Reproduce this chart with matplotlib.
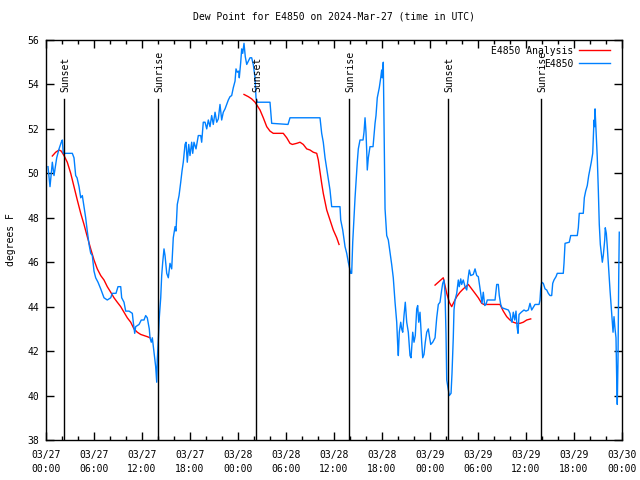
import numpy as np
import matplotlib
matplotlib.use('Agg')
import matplotlib.pyplot as plt
import matplotlib.dates as mdates
import pandas as pd

#--------------------------------
#Configurations of the graph
#--------------------------------
plt.rcParams['font.family'] = 'DejaVu Sans Mono'
plt.rcParams['font.size'] = 7

start = pd.Timestamp('2024-03-27 00:00')

#--------------------------------
#Data (hours after start, dew point in F)
#--------------------------------
obs_hours = [0.25, 0.5, 0.79, 1.0, 1.34, 1.63, 1.91, 2.04, 2.16, 3.29, 3.5, 3.71, 3.88, 4.13,
             4.34, 4.54, 4.75, 4.96, 5.16, 5.38, 5.59, 5.79, 6.0, 6.21, 6.5, 6.84, 7.25, 7.66,
             8.09, 8.29, 8.75, 9.0, 9.34, 9.46, 9.75, 9.96, 10.38, 10.79, 10.91, 11.09, 11.21,
             11.63, 11.91, 12.25, 12.46, 12.66, 12.91, 13.0, 13.16, 13.29, 13.5, 13.71, 13.84,
             13.91, 14.04, 14.16, 14.34, 14.46, 14.59, 14.75, 14.88, 15.09, 15.29, 15.5, 15.71,
             15.91, 16.13, 16.25, 16.41, 16.63, 16.84, 17.0, 17.16, 17.38, 17.5, 17.66, 17.84,
             18.0, 18.21, 18.34, 18.5, 18.75, 19.04, 19.34, 19.46, 19.66, 19.88, 20.09, 20.29,
             20.5, 20.71, 20.91, 21.13, 21.34, 21.54, 21.75, 21.96, 22.16, 22.38, 22.59, 22.79,
             23.0, 23.21, 23.41, 23.63, 23.75, 23.91, 24.09, 24.16, 24.34, 24.46, 24.59, 24.75,
             24.91, 25.09, 25.29, 25.5, 25.71, 25.91, 26.13, 26.25, 26.41, 28.0, 28.21, 30.25,
             30.5, 34.25, 34.46, 34.66, 34.88, 35.09, 35.29, 35.5, 35.71, 36.75, 36.84, 37.09,
             37.38, 37.59, 37.79, 37.91, 38.09, 38.21, 38.34, 38.5, 38.63, 38.75, 38.91, 39.04,
             39.25, 39.63, 39.75, 39.88, 40.0, 40.09, 40.16, 40.29, 40.5, 40.88, 41.0, 41.13,
             41.25, 41.41, 41.66, 41.84, 41.96, 42.04, 42.16, 42.25, 42.38, 42.59, 42.79, 43.0,
             43.21, 43.41, 43.63, 43.84, 43.96, 44.04, 44.16, 44.34, 44.46, 44.59, 44.75, 44.91,
             45.09, 45.29, 45.5, 45.63, 45.84, 46.0, 46.16, 46.34, 46.46, 46.59, 46.75, 46.96,
             47.09, 47.25, 47.41, 47.59, 47.79, 47.91, 48.09, 48.34, 48.63, 48.84, 49.04, 49.25,
             49.46, 49.59, 49.75, 49.88, 50.0, 50.09, 50.29, 50.41, 50.63, 50.75, 50.91, 51.0,
             51.13, 51.34, 51.54, 51.66, 51.84, 51.96, 52.16, 52.38, 52.59, 52.79, 52.91, 53.09,
             53.41, 53.63, 53.84, 54.04, 54.16, 54.34, 54.5, 54.66, 54.84, 55.0, 55.16, 56.13,
             56.34, 56.54, 56.66, 56.84, 57.0, 57.38, 57.79, 58.0, 58.13, 58.25, 58.41, 58.59,
             58.75, 58.88, 59.0, 59.13, 59.41, 59.75, 60.0, 60.29, 60.5, 60.71, 61.13, 61.63,
             61.75, 61.84, 61.96, 62.16, 62.38, 62.59, 62.79, 63.0, 63.21, 63.34, 63.5, 63.75,
             63.91, 64.66, 64.75, 64.88, 65.41, 65.59, 66.41, 66.54, 66.66, 67.16, 67.29, 67.46,
             67.66, 67.84, 68.0, 68.16, 68.34, 68.41, 68.5, 68.59, 68.63, 68.75, 68.91, 69.04,
             69.16, 69.29, 69.41, 69.54, 69.66, 69.84, 69.91, 70.04, 70.16, 70.34, 70.5, 70.63,
             70.75, 70.88, 71.0, 71.13, 71.25, 71.34, 71.41, 71.5, 71.59, 71.66]
obs_dewpt = [50.3, 49.4, 50.5, 49.9, 50.7, 51.1, 51.4, 51.5, 50.9, 50.9, 50.7, 49.9, 49.8, 49.4,
             48.9, 49.0, 48.5, 48.0, 47.4, 46.8, 46.4, 46.3, 45.6, 45.3, 45.1, 44.8, 44.4, 44.3,
             44.4, 44.6, 44.6, 44.9, 44.9, 44.4, 44.2, 43.8, 43.8, 43.7, 43.3, 42.8, 43.1,
             43.2, 43.4, 43.4, 43.6, 43.5, 43.0, 42.6, 42.4, 42.6, 41.95, 41.3, 40.6,
             41.6, 42.5, 43.5, 44.4, 45.4, 46.0, 46.6, 46.3, 45.5, 45.3, 45.95, 45.7,
             47.1, 47.6, 47.4, 48.6, 49.0, 49.6, 50.1, 50.5, 51.3, 51.4, 50.5, 51.3,
             50.8, 51.4, 50.9, 51.4, 51.1, 51.7, 51.7, 51.4, 52.3, 52.3, 52.0, 52.4,
             52.1, 52.6, 52.2, 52.75, 52.3, 52.45, 53.1, 52.4, 52.75, 52.9, 53.1, 53.3,
             53.45, 53.5, 53.85, 54.15, 54.7, 54.55, 54.6, 54.3, 55.0, 55.6, 55.4, 55.85,
             55.25, 54.9, 55.05, 55.2, 55.2, 54.9, 54.3, 53.4, 53.2, 53.2, 52.25, 52.2,
             52.5, 52.5, 51.8, 51.4, 50.7, 50.2, 49.7, 49.25, 48.5, 48.5, 47.9, 47.45,
             46.7, 46.4, 46.0, 45.8, 45.5, 45.5, 46.9, 48.0, 48.9, 49.6, 50.5, 51.1,
             51.5, 51.5, 51.85, 52.5, 51.85, 51.0, 50.15, 50.7, 51.2, 51.2, 51.7, 52.25,
             52.6, 53.4, 53.85, 54.3, 54.65, 54.3, 55.0, 52.3, 48.4, 47.2, 47.0, 46.45,
             45.9, 45.3, 44.2, 43.3, 42.3, 41.8, 42.85, 43.3, 43.0, 42.85, 43.6, 44.2,
             43.3, 42.85, 41.8, 41.7, 42.85, 42.4, 42.7, 43.9, 44.05, 43.3, 43.75, 42.4,
             41.7, 41.85, 42.4, 42.85, 43.0, 42.7, 42.3, 42.4, 42.6, 43.5, 44.1, 44.2,
             44.75, 45.05, 45.2, 44.6, 42.8, 40.7, 40.25, 40.0, 40.1, 41.0, 42.6, 43.85,
             44.3, 44.6, 45.2, 44.9, 45.25, 45.0, 45.2, 44.9, 44.75, 45.35, 45.65, 45.4,
             45.45, 45.7, 45.4, 45.35, 45.05, 44.6, 44.15, 44.65, 44.05, 44.1, 44.3, 44.3,
             45.0, 45.0, 44.5, 44.1, 43.95, 43.9, 43.85, 43.7, 43.4, 43.3, 43.75, 43.4,
             43.8, 43.1, 42.8, 43.65, 43.75, 43.85, 43.8, 43.85, 44.15, 43.85, 44.1, 44.1,
             44.3, 44.8, 45.1, 45.05, 44.8, 44.75, 44.6, 44.5, 44.5, 45.05, 45.2, 45.35,
             45.5, 45.5, 45.95, 46.85, 46.9, 47.2, 47.2, 47.55, 48.2, 48.2, 48.9, 49.2,
             49.45, 49.9, 50.2, 50.5, 50.9, 51.6, 52.4, 52.1, 52.9, 52.0, 50.7, 49.25,
             47.7, 46.8, 46.4, 46.0, 46.3, 47.0, 47.55, 47.3, 46.7, 45.65, 44.75, 44.1,
             43.55, 42.85, 43.55, 43.0, 42.6, 40.7, 39.6, 41.6, 45.35, 47.35]

ana1_hours = [0.79, 1.21, 1.63, 1.91, 2.25, 2.66, 3.09, 3.5, 3.91, 4.34, 4.75, 5.16, 5.59, 6.0,
              6.41, 6.84, 7.25, 7.66, 8.09, 8.5, 8.91, 9.34, 9.75, 10.16, 10.59, 11.0, 11.41,
              11.84, 12.25, 12.66, 13.0]
ana1_dewpt = [50.78, 50.95, 51.05, 51.0, 50.8, 50.5, 50.0, 49.4, 48.8, 48.2, 47.7, 47.15, 46.6,
              46.1, 45.7, 45.4, 45.2, 44.9, 44.65, 44.4, 44.2, 44.0, 43.75, 43.5, 43.3, 43.0,
              42.85, 42.75, 42.7, 42.65, 42.6]

ana2_hours = [24.75, 25.29, 25.71, 26.13, 26.75, 27.16, 27.59, 28.0, 28.41, 28.84, 29.66, 30.09,
              30.5, 30.79, 31.34, 31.75, 32.16, 32.59, 33.0, 33.41, 33.84, 34.04, 34.25, 34.46,
              34.66, 35.09, 35.5, 35.91, 36.34, 36.63]
ana2_dewpt = [53.55, 53.45, 53.35, 53.2, 52.85, 52.5, 52.1, 51.9, 51.8, 51.8, 51.8, 51.6,
              51.35, 51.3, 51.35, 51.4, 51.3, 51.1, 51.05, 50.95, 50.9, 50.6, 50.07, 49.55,
              49.1, 48.35, 47.9, 47.45, 47.1, 46.8]

ana3_hours = [48.63, 49.66, 50.09, 50.41, 50.71, 50.91, 51.34, 51.75, 52.16, 52.79, 53.21, 53.63,
              54.04, 54.46, 54.75, 56.75, 57.16, 57.59, 58.0, 58.41, 58.84, 59.25, 59.66, 60.09,
              60.59]
ana3_dewpt = [44.97, 45.3, 44.6, 44.2, 44.0, 44.15, 44.45, 44.65, 44.8, 45.0, 44.8, 44.6,
              44.4, 44.15, 44.1, 44.1, 43.8, 43.55, 43.4, 43.3, 43.25, 43.25, 43.3, 43.4,
              43.45]

sunset_hours = [2.3, 26.3, 50.3]
sunrise_hours = [14.05, 37.9, 61.9]


def to_time(h):
    return start + pd.to_timedelta(np.asarray(h), unit='h')


#--------------------------------
#Plotting
#--------------------------------
fig = plt.figure(figsize=(6.4, 4.8), dpi=100)
ax = fig.add_axes([46/640, 40/480, 576/640, 400/480])

ax.plot(to_time(ana1_hours), ana1_dewpt, color='#ff0000', lw=1, label='E4850 Analysis')
ax.plot(to_time(ana2_hours), ana2_dewpt, color='#ff0000', lw=1)
ax.plot(to_time(ana3_hours), ana3_dewpt, color='#ff0000', lw=1)
ax.plot(to_time(obs_hours), obs_dewpt, color='#0080ff', lw=1, label='E4850')

line_top = 53.35
for hs, name in [(sunset_hours, 'Sunset'), (sunrise_hours, 'Sunrise')]:
    for h in hs:
        t = to_time(h)
        ax.plot([t, t], [38, line_top], color='black', lw=1)
        ax.text(to_time(h + 0.18), line_top + 0.3, name, rotation=90,
                ha='center', va='bottom', fontsize=7)

ax.set_xlim(start, start + pd.Timedelta(hours=72))
ax.set_ylim(38, 56)
ax.set_yticks(np.arange(38, 57, 2))

ax.xaxis.set_major_locator(mdates.HourLocator(byhour=range(0, 24, 6)))
ax.xaxis.set_minor_locator(mdates.HourLocator(byhour=range(0, 24, 2)))
ax.xaxis.set_major_formatter(mdates.DateFormatter('%m/%d\n%H:%M'))
for lab in ax.get_xticklabels():
    lab.set_linespacing(1.5)

ax.tick_params(which='both', direction='in', top=True, right=True, width=1, color='black')
ax.tick_params(which='major', length=6, pad=5)
ax.tick_params(which='minor', length=3)
ax.tick_params(axis='x', which='major', pad=7)

for s in ax.spines.values():
    s.set_linewidth(1)

ax.set_title('Dew Point for E4850 on 2024-Mar-27 (time in UTC)', fontsize=7, pad=15)
ax.set_ylabel('degrees F', fontsize=7, labelpad=8)

ax.legend(loc='upper right', bbox_to_anchor=(0.99, 1.0), frameon=False, markerfirst=False,
          handlelength=3.2, handletextpad=0.6, labelspacing=0.3, borderaxespad=0.2,
          fontsize=7)

plt.savefig('out.png', dpi=100)
